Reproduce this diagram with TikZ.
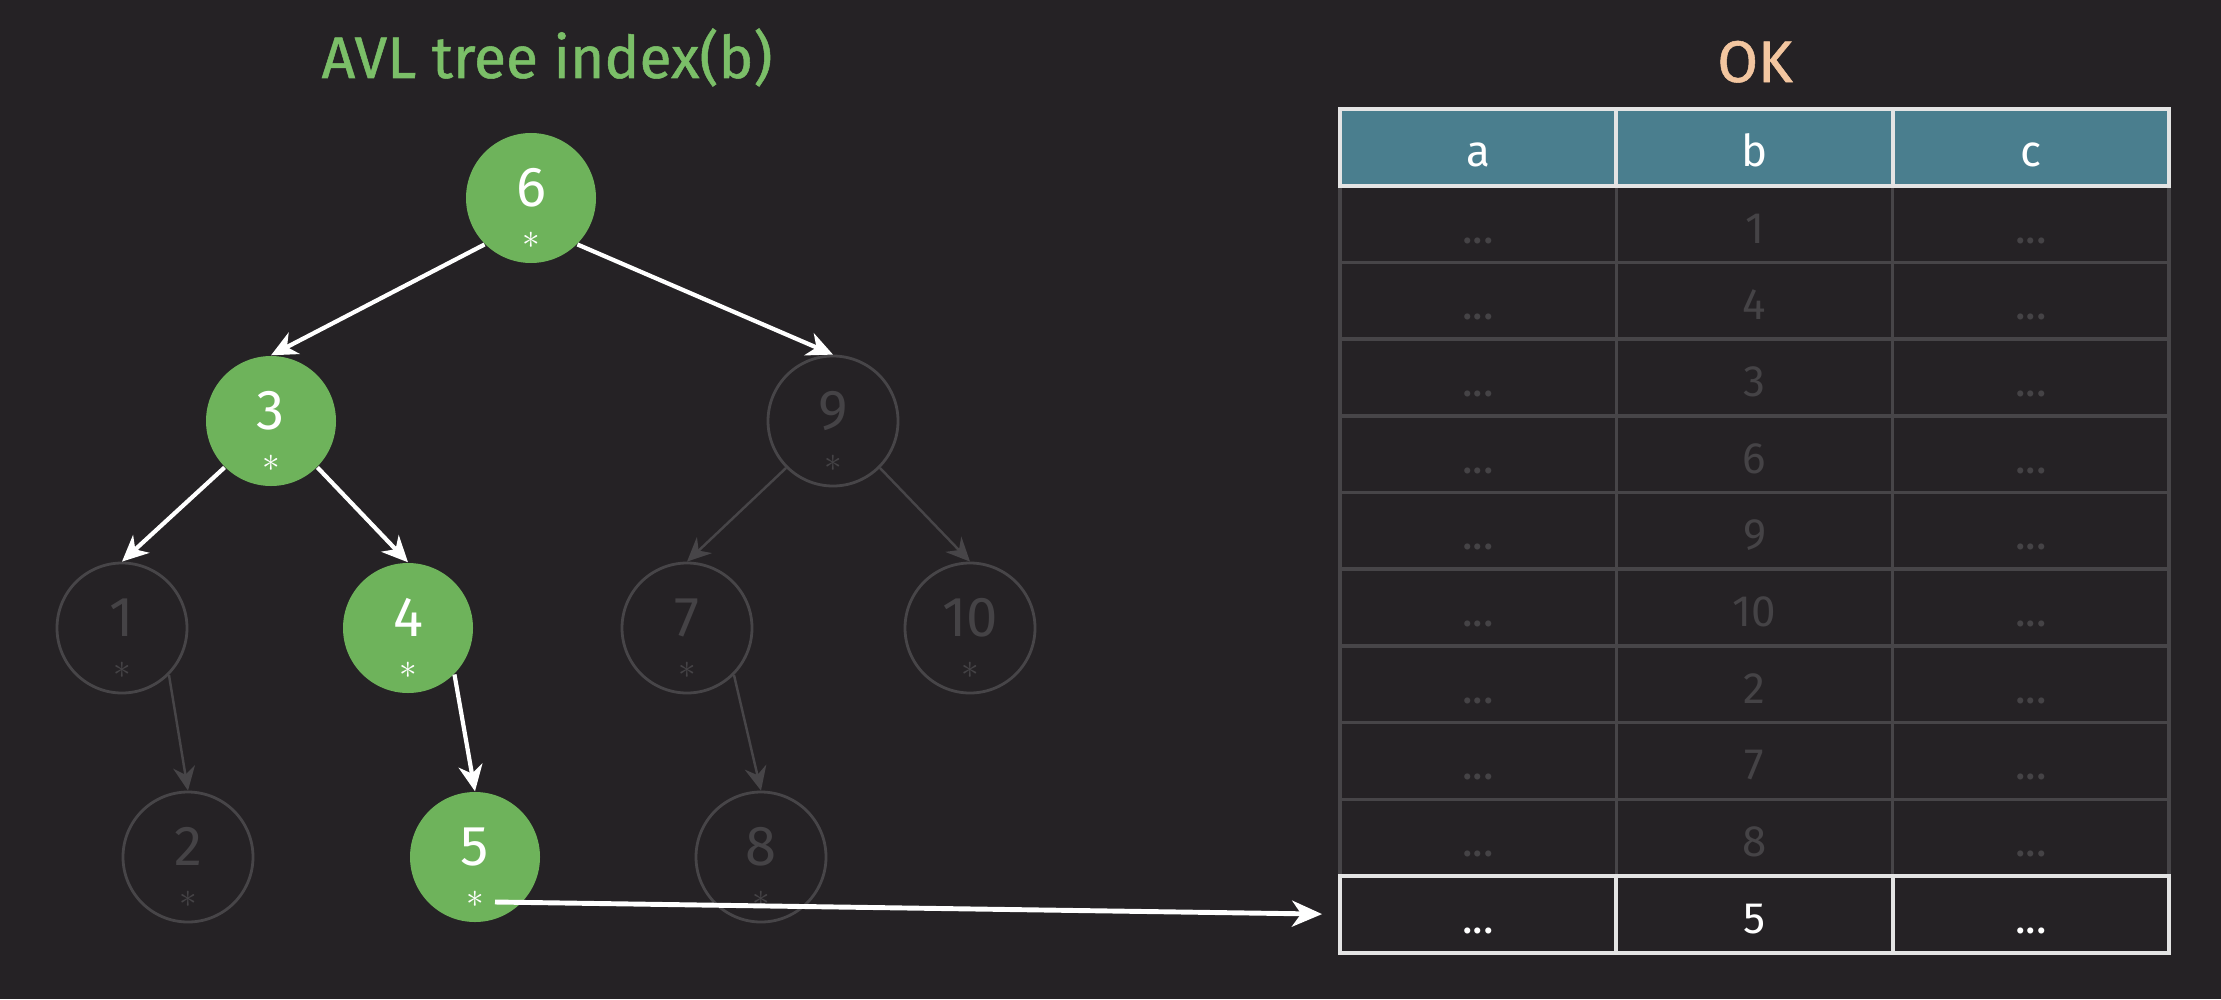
\documentclass[tikz,border=0pt]{standalone}
\usepackage{fontspec}
\setmainfont{Fira Sans}
\newfontfamily\headfont[FakeBold=0.9]{Fira Sans}
\usetikzlibrary{arrows.meta}
\definecolor{bg}{HTML}{252225}
\definecolor{nodegreen}{HTML}{6EB35B}
\definecolor{titlegreen}{HTML}{7BBF68}
\definecolor{okpeach}{HTML}{F3C6A0}
\definecolor{headteal}{HTML}{4A7E8E}
\definecolor{dimline}{HTML}{474548}
\definecolor{dimtext}{HTML}{454346}
\definecolor{brightline}{HTML}{E4E4E4}
% key with its row pointer below
\newcommand{\rec}[1]{\rule{0pt}{17pt}#1\\[-4pt]{\fontsize{10}{10}\selectfont$\ast$}}
\tikzset{
  hot/.style={circle, fill=nodegreen, text=white, minimum size=1.3cm, inner sep=0pt, align=center, font=\fontsize{16}{16}\selectfont},
  cold/.style={circle, draw=dimline, line width=0.8pt, text=dimtext, minimum size=1.3cm, inner sep=0pt, align=center, font=\fontsize{16}{16}\selectfont},
  hotedge/.style={draw=white, line width=1.2pt, -{Stealth[length=2.6mm, width=2.4mm, inset=0.8mm]}},
  coldedge/.style={draw=dimline, line width=0.7pt, -{Stealth[length=2.4mm, width=2.2mm, inset=0.8mm]}},
  cell/.style={rectangle, minimum width=2.763cm, minimum height=0.767cm, inner sep=0pt, outer sep=0pt, font=\fontsize{12.5}{12.5}\selectfont, text height=2.2ex, text depth=0.15ex},
  dimcell/.style={cell, draw=dimline, line width=1pt, text=dimtext},
  headcell/.style={cell, draw=brightline, line width=1.1pt, fill=headteal, text=white},
  litcell/.style={cell, draw=brightline, line width=1.1pt, text=white}
}
\begin{document}
\begin{tikzpicture}
  \fill[bg] (0,0) rectangle (22.21,-9.99);
  \useasboundingbox (0,0) rectangle (22.21,-9.99);
  % titles
  \node[anchor=base, text=titlegreen, font=\headfont\fontsize{16.7}{19}\selectfont] (title) at (5.47,-0.78) {AVL tree index(b)};
  \node[anchor=base, text=okpeach, font=\headfont\fontsize{16.7}{19}\selectfont] (ok) at (17.55,-0.82) {OK};
  % tree
  \node[hot] (n6) at (5.31,-1.98) {\rec{6}};
  \node[hot] (n3) at (2.71,-4.21) {\rec{3}};
  \node[cold] (n9) at (8.33,-4.21) {\rec{9}};
  \node[cold] (n1) at (1.22,-6.28) {\rec{1}};
  \node[hot] (n4) at (4.08,-6.28) {\rec{4}};
  \node[cold] (n7) at (6.87,-6.28) {\rec{7}};
  \node[cold] (n10) at (9.70,-6.28) {\rec{10}};
  \node[cold] (n2) at (1.88,-8.57) {\rec{2}};
  \node[hot] (n5) at (4.75,-8.57) {\rec{5}};
  \node[cold] (n8) at (7.61,-8.57) {\rec{8}};
  \coordinate (p5) at ([xshift=0.2cm, yshift=-0.45cm]n5.center);
  \draw[coldedge] (n9.south west) -- (n7.north);
  \draw[coldedge] (n9.south east) -- (n10.north);
  \draw[coldedge] (n1.south east) -- (n2.north);
  \draw[coldedge] (n7.south east) -- (n8.north);
  \draw[hotedge] (n6.south west) -- (n3.north);
  \draw[hotedge] (n6.south east) -- (n9.north);
  \draw[hotedge] (n3.south west) -- (n1.north);
  \draw[hotedge] (n3.south east) -- (n4.north);
  \draw[hotedge] (n4.south east) -- (n5.north);
  % table
  \foreach \v [count=\i] in {1,4,3,6,9,10,2,7,8} {
    \node[dimcell] (r\i-a) at (14.782,-1.4735-0.767*\i) {...};
    \node[dimcell] (r\i-b) at (17.545,-1.4735-0.767*\i) {\v};
    \node[dimcell] (r\i-c) at (20.308,-1.4735-0.767*\i) {...};
  }
  \node[headcell] (h-a) at (14.782,-1.4735) {a};
  \node[headcell] (h-b) at (17.545,-1.4735) {b};
  \node[headcell] (h-c) at (20.308,-1.4735) {c};
  \node[litcell] (r10-a) at (14.782,-9.1435) {...};
  \node[litcell] (r10-b) at (17.545,-9.1435) {5};
  \node[litcell] (r10-c) at (20.308,-9.1435) {...};
  \draw[draw=white, line width=1.4pt, shorten >=0.18cm, -{Stealth[length=3mm, width=2.6mm, inset=0.9mm]}] (p5) -- (r10-a.west);
\end{tikzpicture}
\end{document}
